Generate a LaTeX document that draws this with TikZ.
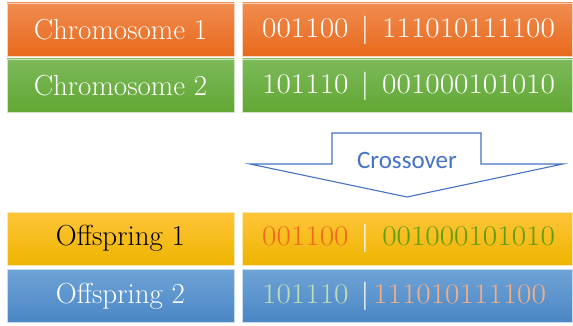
\documentclass[tikz,border=0pt]{standalone}
\usepackage{fontspec}
\newfontfamily\calibrifont{Carlito}
\newfontfamily\bitsfont[FakeStretch=1.1]{Latin Modern Roman}
\definecolor{orA}{HTML}{F08C50}
\definecolor{orB}{HTML}{E8691C}
\definecolor{grA}{HTML}{7CB95A}
\definecolor{grB}{HTML}{62A733}
\definecolor{goA}{HTML}{FFC53A}
\definecolor{goB}{HTML}{EDB400}
\definecolor{blA}{HTML}{6FA3D6}
\definecolor{blB}{HTML}{4A86C5}
\definecolor{arrowblue}{HTML}{4472C4}
\definecolor{offor}{HTML}{EE6A20}
\definecolor{offgr}{HTML}{5E9E10}
\definecolor{ltgr}{HTML}{BEDDB0}
\definecolor{ltor}{HTML}{F5AE82}
\newcommand{\barsep}[2]{\hspace{#1}|\hspace{#2}}
\tikzset{
  cell/.style={draw=white!70!#1, line width=0.8pt, minimum height=53pt, inner sep=0pt, font=\fontsize{29}{32}\selectfont},
  leftcell/.style={cell=#1, minimum width=227pt},
  rightcell/.style={cell=#1, minimum width=330pt},
  bits/.style={anchor=west, inner sep=0pt, font=\bitsfont\fontsize{28.5}{32}\selectfont},
  arrowshape/.style={draw=arrowblue, line width=1.1pt, fill=white, line join=miter},
}
\begin{document}
\begin{tikzpicture}[x=1pt,y=-1pt]
\useasboundingbox (0,0) rectangle (573,326);
% rows
\node[leftcell=orB, top color=orA, bottom color=orB, text=white] (c1l) at (120.5,29.5) {Chromosome 1};
\node[rightcell=orB, top color=orA, bottom color=orB] (c1r) at (407.5,29.5) {};
\node[bits, text=white] (c1t) at (262,30) {001100\barsep{12pt}{13pt}111010111100};
\node[leftcell=grB, top color=grA, bottom color=grB, text=white] (c2l) at (120.5,85.5) {Chromosome 2};
\node[rightcell=grB, top color=grA, bottom color=grB] (c2r) at (407.5,85.5) {};
\node[bits, text=white] (c2t) at (262,86) {101110\barsep{12pt}{13pt}001000101010};
\node[leftcell=goB, top color=goA, bottom color=goB, text=black] (o1l) at (120.5,238.5) {Offspring 1};
\node[rightcell=goB, top color=goA, bottom color=goB] (o1r) at (407.5,238.5) {};
\node[bits] (o1t) at (262,238.5) {\textcolor{offor}{001100}\textcolor{white}{\barsep{12pt}{13pt}}\textcolor{offgr}{001000101010}};
\node[leftcell=blB, top color=blA, bottom color=blB, text=white] (o2l) at (120.5,296) {Offspring 2};
\node[rightcell=blB, top color=blA, bottom color=blB] (o2r) at (407.5,296) {};
\node[bits] (o2t) at (262,296) {\textcolor{ltgr}{101110}\textcolor{white}{\barsep{12pt}{4pt}}\textcolor{ltor}{111010111100}};
% crossover arrow
\draw[arrowshape] (332,164) -- (332,133) -- (481,133) -- (481,164) -- (563,164) -- (407,197) -- (250,164) -- cycle;
\node[text=arrowblue, font=\calibrifont\fontsize{25}{28}\selectfont, inner sep=0pt] (xo) at (407,160) {Crossover};
\end{tikzpicture}
\end{document}
